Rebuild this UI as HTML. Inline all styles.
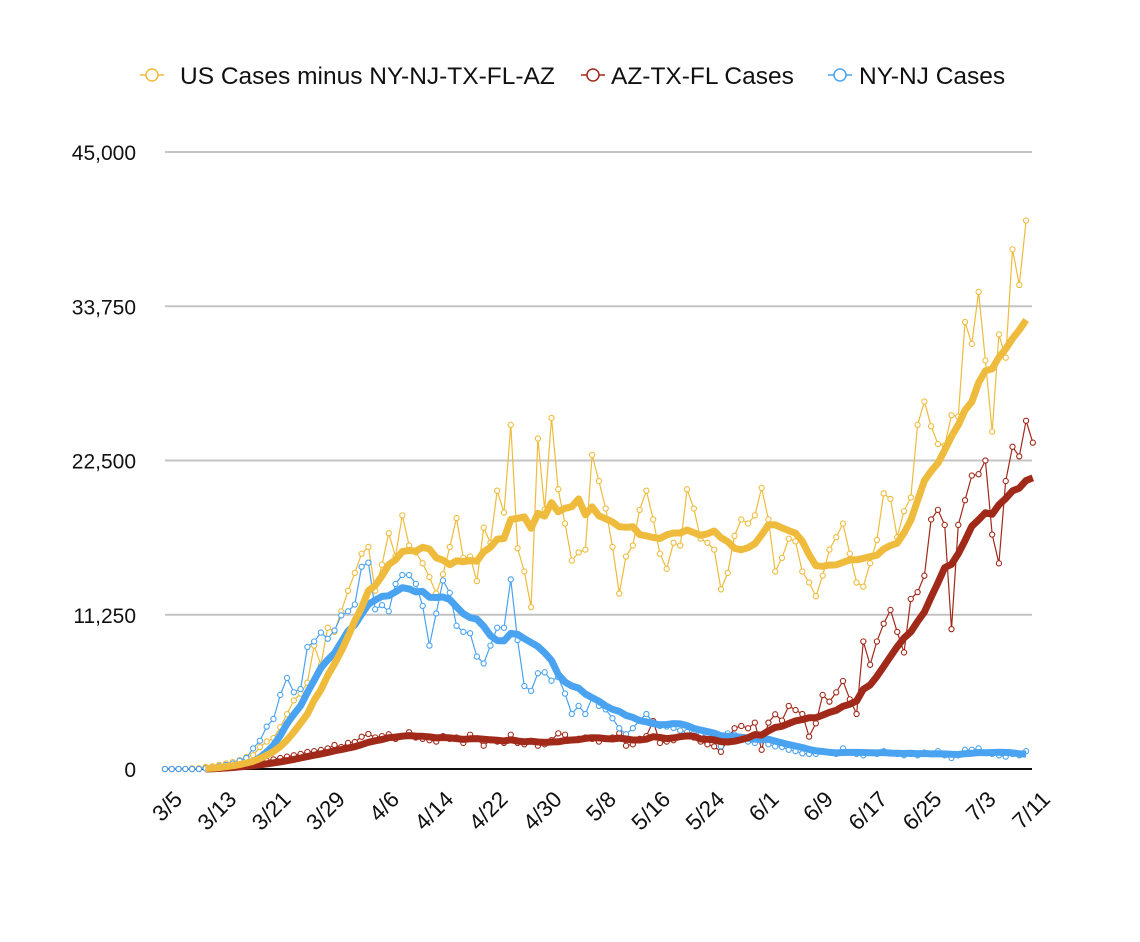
<!DOCTYPE html>
<html><head><meta charset="utf-8"><style>
html,body{margin:0;padding:0;background:#fff;}
svg{display:block;font-family:"Liberation Sans",Arial,sans-serif;}
</style></head><body>
<svg id="chart" width="1140" height="942" viewBox="0 0 1140 942">
<g id="legend">
 <g>
  <line x1="140" y1="75" x2="164" y2="75" stroke="#efbb3c" stroke-width="1.5"/>
  <circle cx="152" cy="75" r="6" fill="#fff" stroke="#efbb3c" stroke-width="1.5"/>
  <text x="180" y="84" font-size="24.5" fill="#111">US Cases minus NY-NJ-TX-FL-AZ</text>
 </g>
 <g>
  <line x1="581" y1="75" x2="605" y2="75" stroke="#a0291a" stroke-width="1.5"/>
  <circle cx="593" cy="75" r="6" fill="#fff" stroke="#a0291a" stroke-width="1.5"/>
  <text x="611" y="84" font-size="24.5" fill="#111">AZ-TX-FL Cases</text>
 </g>
 <g>
  <line x1="828" y1="75" x2="852" y2="75" stroke="#4aa3f0" stroke-width="1.5"/>
  <circle cx="840" cy="75" r="6" fill="#fff" stroke="#4aa3f0" stroke-width="1.5"/>
  <text x="859" y="84" font-size="24.5" fill="#111">NY-NJ Cases</text>
 </g>
</g>
<g id="grid"></g>
<g id="ylabels"></g>
<g id="xlabels"></g>
<g id="series"></g>
</svg>
<script>
const yTicks = [0, 11250, 22500, 33750, 45000];
const yTickLabels = ["0", "11,250", "22,500", "33,750", "45,000"];
const xTickLabels = ["3/5","3/13","3/21","3/29","4/6","4/14","4/22","4/30","5/8","5/16","5/24","6/1","6/9","6/17","6/25","7/3","7/11"];
const xTickIndex = [0,8,16,24,32,40,48,56,64,72,80,88,96,104,112,120,128];
const usMinus = [0,0,0,0,50,50,150,200,300,400,500,650,870,1000,1600,2000,2250,3050,4000,5000,5500,6300,9000,7600,10300,10000,11500,13000,14300,15700,16200,13000,14900,17200,15500,18500,16300,15800,15000,14000,12800,14200,16200,18300,15400,15500,13700,17600,16500,20300,18700,25100,16100,14400,11800,24100,18900,25600,20400,17900,15200,15800,16000,22900,21000,19000,16200,12800,15500,16300,18900,20300,18200,15700,14600,16500,16300,20400,19000,16800,16500,16000,13100,14300,17000,18200,17900,18500,20500,18200,14400,15400,16800,16600,14400,13600,12600,14100,16000,16900,17900,15700,13600,13300,15000,16700,20100,19700,16900,18800,19800,25100,26800,25000,23700,23600,25800,25700,32600,31000,34800,29800,24600,31700,30000,37900,35300,40000];
const azTxFl = [0,0,0,0,0,0,50,100,150,200,250,300,350,400,500,600,700,800,900,1000,1100,1240,1300,1390,1500,1750,1600,1900,1970,2350,2550,2300,2400,2530,2200,2400,2680,2300,2200,2100,2000,2400,2200,2300,1900,2500,2200,1700,2100,2000,1900,2500,1900,1800,2000,1700,1800,2100,2600,2500,2100,2200,2300,2200,2000,2200,2300,2600,1700,1800,2200,2400,3500,1900,2000,2100,2400,2600,2300,2000,1800,1650,1250,2200,2970,3140,2970,3380,1400,3380,3990,3530,4600,4300,4010,2360,3330,5400,4910,5590,6420,5080,4010,9300,7600,9300,10600,11600,10000,8500,12400,12900,14100,18200,18900,17800,10200,17800,19600,21400,21500,22500,17100,15000,21000,23500,22800,25400,23800];
const nyNj = [0,0,0,0,0,0,50,100,200,300,400,600,800,1500,2060,3090,3650,5400,6640,5600,5830,8900,9300,9950,9500,10100,11200,11500,12000,14750,15050,11650,11950,11500,13500,14150,14150,13500,11900,9000,11350,13750,12850,10450,10000,9900,8200,7700,9000,10300,10300,13830,9400,6050,5700,6980,7050,6440,6700,5500,4010,4600,4010,5200,4600,4350,3700,2970,2530,2970,3570,4010,3400,3140,3100,3000,2800,2700,2600,2500,2400,2300,1650,2600,2500,2300,2000,1900,2100,1800,1650,1600,1400,1300,1140,1100,1100,1300,1200,1100,1500,1200,1100,1000,1200,1100,1300,1200,1100,1000,1100,1000,1200,1100,1300,1000,800,1000,1400,1400,1500,1200,1100,1000,900,1100,1000,1300];

const NS = "http://www.w3.org/2000/svg";
const X0 = 165, DX = 6.78, Y0 = 769, YMAX = 45000, YH = 617;
function xPos(i){ return X0 + DX*i; }
function yPos(v){ return Y0 - v*YH/YMAX; }
function mk(tag, attrs, parent){ const e=document.createElementNS(NS,tag); for(const k in attrs) e.setAttribute(k,attrs[k]); parent.appendChild(e); return e; }
function ma7(arr){ const out=[]; for(let i=6;i<arr.length;i++){ let s=0; for(let j=i-6;j<=i;j++) s+=arr[j]; out.push([i,s/7]); } return out; }

const grid=document.getElementById('grid'), yl=document.getElementById('ylabels'), xl=document.getElementById('xlabels'), ser=document.getElementById('series');
yTicks.forEach((t,k)=>{
  if(t>0){
    const g=mk('line',{x1:165,x2:1032,y1:yPos(t),y2:yPos(t),stroke:'#c4c4c4','stroke-width':2},grid);
    
    
  }
  const tx=mk('text',{x:136,y:yPos(t)+8,'text-anchor':'end','font-size':21,fill:'#111'},yl);
  tx.textContent=yTickLabels[k];
  
  
});
const ax=mk('line',{x1:165,x2:1032,y1:Y0,y2:Y0,stroke:'#111','stroke-width':2},grid);


xTickLabels.forEach((lab,k)=>{
  const x=xPos(xTickIndex[k])+8, y=790;
  const tx=mk('text',{x:x,y:y,'text-anchor':'end','font-size':22.5,fill:'#111',transform:`rotate(-45 ${x} ${y})`,dy:15},xl);
  tx.textContent=lab;
  
  
});

function drawSeries(arr,color,name){
  const g=mk('g',{},ser);
  
  
  const avg=ma7(arr);
  const pts=arr.map((v,i)=>xPos(i).toFixed(1)+','+yPos(v).toFixed(1)).join(' ');
  const thin=mk('polyline',{points:pts,fill:'none',stroke:color,'stroke-width':1.2},g);
  
  
  arr.forEach((v,i)=>{
    const c=mk('circle',{cx:xPos(i),cy:yPos(v),r:2.6,fill:'#fff',stroke:color,'stroke-width':1.1},g);
    
    
  });
  return {g,avg};
}
function drawAvg(obj,color,name){
  const p=obj.avg.map(([i,v])=>xPos(i).toFixed(1)+','+yPos(v).toFixed(1)).join(' ');
  const l=mk('polyline',{points:p,fill:'none',stroke:color,'stroke-width':7,'stroke-linejoin':'round','stroke-linecap':'butt'},ser);
  
  
}
const sy=drawSeries(usMinus,'#efbb3c','us-minus');
const sr=drawSeries(azTxFl,'#a0291a','az-tx-fl');
const sb=drawSeries(nyNj,'#4aa3f0','ny-nj');
drawAvg(sb,'#4aa3f0','ny-nj');
drawAvg(sr,'#a0291a','az-tx-fl');
drawAvg(sy,'#efbb3c','us-minus');
</script>
</body></html>
